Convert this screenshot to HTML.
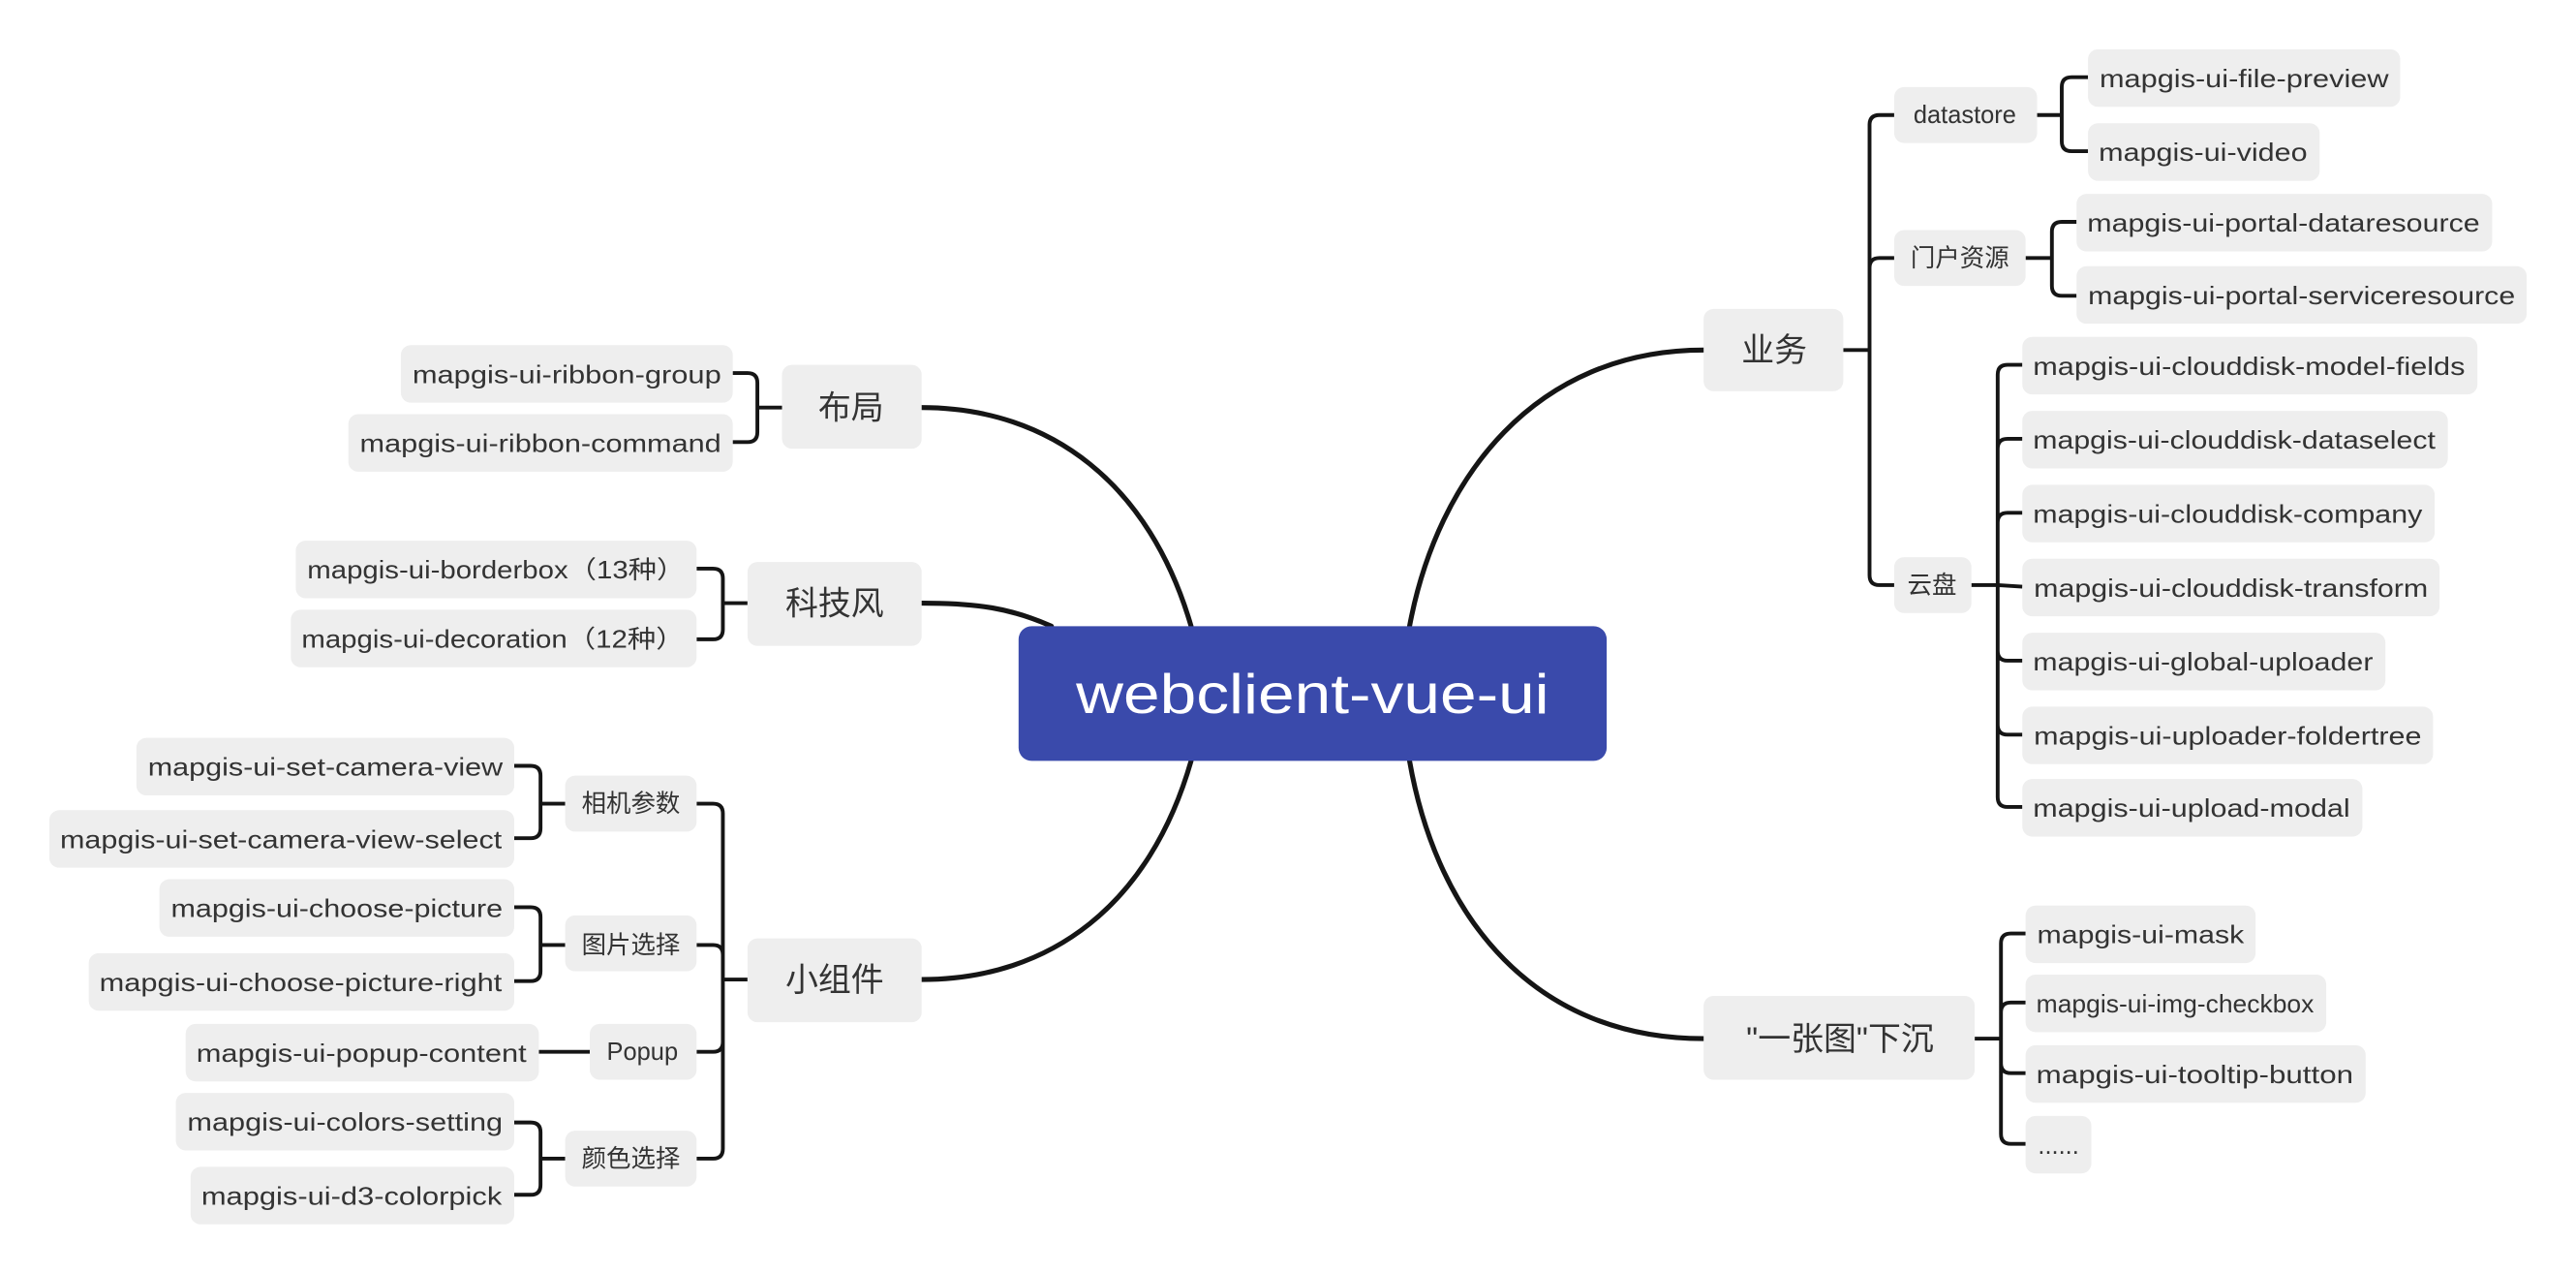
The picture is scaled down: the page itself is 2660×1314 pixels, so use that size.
<!DOCTYPE html>
<html><head><meta charset="utf-8"><style>
html,body{margin:0;padding:0;background:#fff;width:2660px;height:1314px;overflow:hidden}
svg text{font-family:"Liberation Sans","Noto Sans CJK SC",sans-serif;fill:#333}
</style></head><body>
<svg width="2660" height="1314" viewBox="0 0 1568 774.6" xmlns="http://www.w3.org/2000/svg">
<g fill="none" stroke="#151515" stroke-width="3" stroke-linecap="round">
<path d="M858,381 C875,290 935,213 1037,213"/>
<path d="M858,463 C875,560 935,632 1037,632"/>
<path d="M725,381 C700,295 640,248 561,248"/>
<path d="M640,381 C615,370 595,367 561,367"/>
<path d="M725,463 C700,550 640,596 561,596"/>
</g>
<g fill="none" stroke="#151515" stroke-width="2.3">
<path d="M1122,213 L1138,213 M1138,213 L1138,76 Q1138,70 1144,70 L1153,70 M1138,213 L1138,163 Q1138,157 1144,157 L1153,157 M1138,213 L1138,350 Q1138,356 1144,356 L1153,356"/>
<path d="M1240,70 L1255,70 M1255,70 L1255,53 Q1255,47 1261,47 L1271,47 M1255,70 L1255,86 Q1255,92 1261,92 L1271,92"/>
<path d="M1233,157 L1249,157 M1249,157 L1249,141 Q1249,135 1255,135 L1264,135 M1249,157 L1249,174 Q1249,180 1255,180 L1264,180"/>
<path d="M1200,356 L1216,356 M1216,356 L1216,228 Q1216,222 1222,222 L1231,222 M1216,356 L1216,273 Q1216,267 1222,267 L1231,267 M1216,356 L1216,318 Q1216,312 1222,312 L1231,312 M1216,356 L1231,357 M1216,356 L1216,396 Q1216,402 1222,402 L1231,402 M1216,356 L1216,441 Q1216,447 1222,447 L1231,447 M1216,356 L1216,485 Q1216,491 1222,491 L1231,491"/>
<path d="M1202,632 L1218,632 M1218,632 L1218,574 Q1218,568 1224,568 L1233,568 M1218,632 L1218,616 Q1218,610 1224,610 L1233,610 M1218,632 L1218,647 Q1218,653 1224,653 L1233,653 M1218,632 L1218,690 Q1218,696 1224,696 L1233,696"/>
<path d="M476,248 L461,248 M461,248 L461,233 Q461,227 455,227 L446,227 M461,248 L461,263 Q461,269 455,269 L446,269"/>
<path d="M455,367 L440,367 M440,367 L440,352 Q440,346 434,346 L424,346 M440,367 L440,383 Q440,389 434,389 L424,389"/>
<path d="M455,596 L440,596 M440,596 L440,495 Q440,489 434,489 L424,489 M440,596 L440,581 Q440,575 434,575 L424,575 M440,596 L440,634 Q440,640 434,640 L424,640 M440,596 L440,699 Q440,705 434,705 L424,705"/>
<path d="M344,489 L329,489 M329,489 L329,472 Q329,466 323,466 L313,466 M329,489 L329,504 Q329,510 323,510 L313,510"/>
<path d="M344,575 L329,575 M329,575 L329,558 Q329,552 323,552 L313,552 M329,575 L329,591 Q329,597 323,597 L313,597"/>
<path d="M359,640 L328,640"/>
<path d="M344,705 L329,705 M329,705 L329,689 Q329,683 323,683 L313,683 M329,705 L329,721 Q329,727 323,727 L313,727"/>
</g>
<rect x="620" y="381" width="358" height="82" rx="8" fill="#3a4aab"/>
<text x="799" y="434" font-size="34" text-anchor="middle" style="fill:#fff" textLength="288" lengthAdjust="spacingAndGlyphs">webclient-vue-ui</text>
<g fill="#eeeeee">
<rect x="1037" y="188" width="85" height="50" rx="6"/>
<rect x="1037" y="606" width="165" height="51" rx="6"/>
<rect x="476" y="222" width="85" height="51" rx="6"/>
<rect x="455" y="342" width="106" height="51" rx="6"/>
<rect x="455" y="571" width="106" height="51" rx="6"/>
<rect x="1153" y="53" width="87" height="34" rx="6"/>
<rect x="1153" y="140" width="80" height="34" rx="6"/>
<rect x="1153" y="339" width="47" height="34" rx="6"/>
<rect x="1271" y="30" width="190" height="35" rx="6"/>
<rect x="1271" y="75" width="141" height="35" rx="6"/>
<rect x="1264" y="118" width="253" height="35" rx="6"/>
<rect x="1264" y="162" width="274" height="35" rx="6"/>
<rect x="1231" y="205" width="277" height="35" rx="6"/>
<rect x="1231" y="250" width="259" height="35" rx="6"/>
<rect x="1231" y="295" width="251" height="35" rx="6"/>
<rect x="1231" y="340" width="254" height="35" rx="6"/>
<rect x="1231" y="385" width="221" height="35" rx="6"/>
<rect x="1231" y="430" width="250" height="35" rx="6"/>
<rect x="1231" y="474" width="207" height="35" rx="6"/>
<rect x="1233" y="551" width="140" height="35" rx="6"/>
<rect x="1233" y="593" width="183" height="35" rx="6"/>
<rect x="1233" y="636" width="207" height="35" rx="6"/>
<rect x="1233" y="679" width="40" height="35" rx="6"/>
<rect x="244" y="210" width="202" height="35" rx="6"/>
<rect x="212" y="252" width="234" height="35" rx="6"/>
<rect x="180" y="329" width="244" height="35" rx="6"/>
<rect x="177" y="371" width="247" height="35" rx="6"/>
<rect x="344" y="472" width="80" height="34" rx="6"/>
<rect x="344" y="557" width="80" height="34" rx="6"/>
<rect x="359" y="623" width="65" height="34" rx="6"/>
<rect x="344" y="688" width="80" height="34" rx="6"/>
<rect x="83" y="449" width="230" height="35" rx="6"/>
<rect x="30" y="493" width="283" height="35" rx="6"/>
<rect x="97" y="535" width="216" height="35" rx="6"/>
<rect x="54" y="580" width="259" height="35" rx="6"/>
<rect x="113" y="623" width="215" height="35" rx="6"/>
<rect x="107" y="665" width="206" height="35" rx="6"/>
<rect x="116" y="710" width="197" height="35" rx="6"/>
</g>
<g font-size="20" text-anchor="middle">
<text x="1080" y="220">业务</text>
<text x="1120" y="639">"一张图"下沉</text>
<text x="518" y="255">布局</text>
<text x="508" y="374">科技风</text>
<text x="508" y="603">小组件</text>
</g>
<g font-size="15" text-anchor="middle" lengthAdjust="spacingAndGlyphs">
<text x="1196" y="75">datastore</text>
<text x="1193" y="162">门户资源</text>
<text x="1176" y="361">云盘</text>
<text x="384" y="494">相机参数</text>
<text x="384" y="580">图片选择</text>
<text x="391" y="645">Popup</text>
<text x="384" y="710">颜色选择</text>
<text x="1366" y="53" textLength="176" lengthAdjust="spacingAndGlyphs">mapgis-ui-file-preview</text>
<text x="1341" y="98" textLength="127" lengthAdjust="spacingAndGlyphs">mapgis-ui-video</text>
<text x="1390" y="141" textLength="239" lengthAdjust="spacingAndGlyphs">mapgis-ui-portal-dataresource</text>
<text x="1401" y="185" textLength="260" lengthAdjust="spacingAndGlyphs">mapgis-ui-portal-serviceresource</text>
<text x="1369" y="228" textLength="263" lengthAdjust="spacingAndGlyphs">mapgis-ui-clouddisk-model-fields</text>
<text x="1360" y="273" textLength="245" lengthAdjust="spacingAndGlyphs">mapgis-ui-clouddisk-dataselect</text>
<text x="1356" y="318" textLength="237" lengthAdjust="spacingAndGlyphs">mapgis-ui-clouddisk-company</text>
<text x="1358" y="363" textLength="240" lengthAdjust="spacingAndGlyphs">mapgis-ui-clouddisk-transform</text>
<text x="1341" y="408" textLength="207" lengthAdjust="spacingAndGlyphs">mapgis-ui-global-uploader</text>
<text x="1356" y="453" textLength="236" lengthAdjust="spacingAndGlyphs">mapgis-ui-uploader-foldertree</text>
<text x="1334" y="497" textLength="193" lengthAdjust="spacingAndGlyphs">mapgis-ui-upload-modal</text>
<text x="1303" y="574" textLength="126" lengthAdjust="spacingAndGlyphs">mapgis-ui-mask</text>
<text x="1324" y="616" textLength="169" lengthAdjust="spacingAndGlyphs">mapgis-ui-img-checkbox</text>
<text x="1336" y="659" textLength="193" lengthAdjust="spacingAndGlyphs">mapgis-ui-tooltip-button</text>
<text x="1253" y="702">......</text>
<text x="345" y="233" textLength="188" lengthAdjust="spacingAndGlyphs">mapgis-ui-ribbon-group</text>
<text x="329" y="275" textLength="220" lengthAdjust="spacingAndGlyphs">mapgis-ui-ribbon-command</text>
<text x="302" y="352" textLength="230" lengthAdjust="spacingAndGlyphs">mapgis-ui-borderbox（13种）</text>
<text x="300" y="394" textLength="233" lengthAdjust="spacingAndGlyphs">mapgis-ui-decoration（12种）</text>
<text x="198" y="472" textLength="216" lengthAdjust="spacingAndGlyphs">mapgis-ui-set-camera-view</text>
<text x="171" y="516" textLength="269" lengthAdjust="spacingAndGlyphs">mapgis-ui-set-camera-view-select</text>
<text x="205" y="558" textLength="202" lengthAdjust="spacingAndGlyphs">mapgis-ui-choose-picture</text>
<text x="183" y="603" textLength="245" lengthAdjust="spacingAndGlyphs">mapgis-ui-choose-picture-right</text>
<text x="220" y="646" textLength="201" lengthAdjust="spacingAndGlyphs">mapgis-ui-popup-content</text>
<text x="210" y="688" textLength="192" lengthAdjust="spacingAndGlyphs">mapgis-ui-colors-setting</text>
<text x="214" y="733" textLength="183" lengthAdjust="spacingAndGlyphs">mapgis-ui-d3-colorpick</text>
</g>
</svg>
</body></html>
